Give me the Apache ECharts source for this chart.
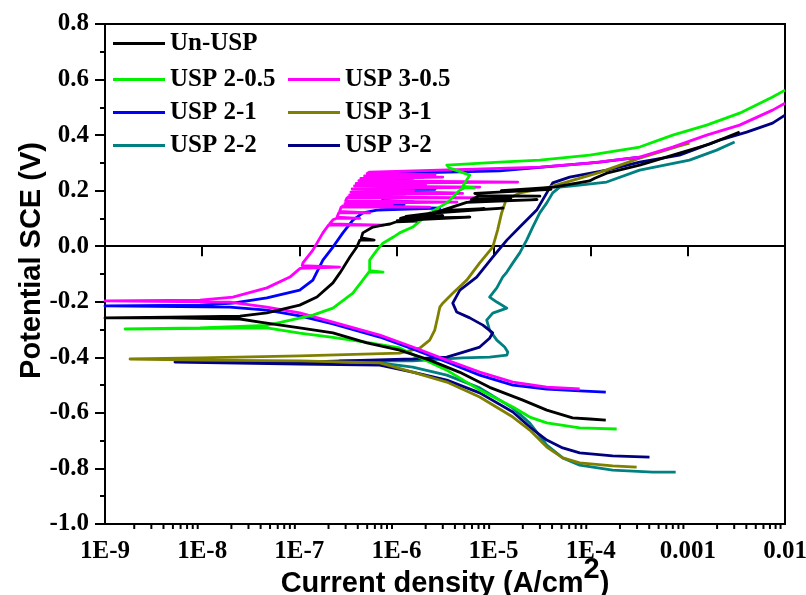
<!DOCTYPE html>
<html><head><meta charset="utf-8">
<script src="https://cdn.jsdelivr.net/npm/echarts@6/dist/echarts.min.js"></script>
<style>html,body{margin:0;padding:0;background:#fff}#c{width:806px;height:595px}</style>
</head><body><div id="c"></div>
<script>
// ---- tick labels ----
const xTickLabels = ['1E-9','1E-8','1E-7','1E-6','1E-5','1E-4','0.001','0.01'];
const seriesNames = ['Un-USP','USP 2-0.5','USP 3-0.5','USP 2-1','USP 3-1','USP 2-2','USP 3-2'];

// ---- data: [current density (A/cm2), potential (V vs SCE)] ----
const unUSP = [
 [1.43e-4,-0.626],[9.8e-5,-0.622],[6.5e-5,-0.618],[3.53e-5,-0.590],[2.0e-5,-0.554],[9.1e-6,-0.508],[4.5e-6,-0.454],
 [2.2e-6,-0.410],[1.08e-6,-0.374],[4.96e-7,-0.348],[2.22e-7,-0.312],[1.01e-7,-0.294],[3.93e-8,-0.273],[2.45e-8,-0.262],
 [4.66e-9,-0.258],[1.0e-9,-0.258],
 [4.66e-9,-0.255],[2.45e-8,-0.252],[4.64e-8,-0.240],[1.01e-7,-0.212],[1.52e-7,-0.183],[2.22e-7,-0.132],[2.62e-7,-0.096],
 [3.32e-7,-0.039],[3.91e-7,-0.003],[4.2e-7,0.022],[5.9e-7,0.022],[4.35e-7,0.03],[4.51e-7,0.048],[5.72e-7,0.069],[7.26e-7,0.076],
 [8.6e-7,0.08],[1.0e-6,0.088],[1.6e-6,0.09],[1.02e-6,0.092],[1.05e-6,0.095],[5.7e-6,0.105],[1.1e-6,0.100],
 [1.2e-6,0.104],[3.0e-6,0.11],[1.25e-6,0.107],
 [1.3e-6,0.108],[2.2e-6,0.118],[1.25e-5,0.137],[2.4e-6,0.122],
 [2.7e-6,0.125],[8.0e-6,0.135],[2.8e-6,0.128],
 [3.0e-6,0.13],[5.3e-6,0.158],[2.8e-5,0.168],[5.6e-6,0.16],
 [5.8e-6,0.165],[1.5e-5,0.172],[5.9e-6,0.168],
 [6.0e-6,0.175],[7.0e-6,0.180],[3.0e-5,0.18],[7.5e-6,0.182],
 [6.4e-6,0.19],[3.9e-5,0.205],[1.2e-5,0.200],[2.5e-5,0.207],[4.2e-5,0.213],
 [9.7e-5,0.235],[1.1e-4,0.245],[1.46e-4,0.263],[3.19e-4,0.292],[8.2e-4,0.335],[1.68e-3,0.368],[3.41e-3,0.411]
];
const usp2_05 = [
 [1.85e-4,-0.658],[7.7e-5,-0.654],[3.53e-5,-0.636],[2.36e-5,-0.615],[1.58e-5,-0.579],[7.2e-6,-0.518],[3.3e-6,-0.446],
 [1.47e-6,-0.389],[1.08e-6,-0.366],[4.96e-7,-0.346],[2.22e-7,-0.328],[1.01e-7,-0.313],[4.64e-8,-0.294],[1.61e-9,-0.298],
 [9.5e-9,-0.294],[4.64e-8,-0.285],[1.38e-7,-0.248],[2.22e-7,-0.223],[3.56e-7,-0.169],[4.51e-7,-0.122],
 [5.2e-7,-0.093],[7.3e-7,-0.093],[5.3e-7,-0.088],[5.3e-7,-0.050],[6.3e-7,-0.014],[7.26e-7,0.011],[9.3e-7,0.033],
 [1.08e-6,0.048],[1.47e-6,0.069],[2.2e-6,0.120],[3.3e-6,0.156],[4.5e-6,0.202],[5.0e-6,0.21],[6.3e-6,0.21],[4.8e-6,0.215],
 [5.7e-6,0.256],[3.54e-6,0.281],[3.3e-6,0.292],[1.16e-5,0.303],[2.99e-5,0.310],[9.78e-5,0.328],[3.19e-4,0.357],
 [6.98e-4,0.400],[1.56e-3,0.436],[3.41e-3,0.479],[7.45e-3,0.537],[1.0e-2,0.562]
];
const usp3_05 = [
 [7.7e-5,-0.514],[3.53e-5,-0.507],[1.58e-5,-0.489],[7.2e-6,-0.453],[3.3e-6,-0.410],[1.47e-6,-0.363],[6.74e-7,-0.320],
 [2.22e-7,-0.273],[1.01e-7,-0.240],[4.64e-8,-0.219],[1.93e-8,-0.201],[1.0e-9,-0.197],
 [9.5e-9,-0.194],[2.07e-8,-0.183],[4.64e-8,-0.150],[8.0e-8,-0.111],[1.02e-7,-0.08],[1.05e-7,-0.075],[2.6e-7,-0.075],
 [1.07e-7,-0.07],[1.09e-7,-0.060],[1.38e-7,-0.014],[1.75e-7,0.048],[2.0e-7,0.076],[7.3e-7,0.076],[2.05e-7,0.08],
 [2.22e-7,0.095],[2.4e-7,0.10],[4.2e-7,0.10],[2.45e-7,0.105],
 [2.55e-7,0.12],[5.3e-7,0.12],[2.6e-7,0.125],
 [2.7e-7,0.141],[2.2e-6,0.141],[2.8e-7,0.145],
 [2.9e-7,0.150],[9.0e-7,0.150],[2.95e-7,0.154],
 [2.9e-7,0.159],[4.2e-6,0.159],[3.0e-7,0.163],
 [3.1e-7,0.174],[9.8e-6,0.174],[3.2e-7,0.178],
 [3.25e-7,0.182],[1.2e-6,0.182],[3.3e-7,0.185],
 [3.3e-7,0.19],[4.8e-6,0.19],[3.4e-7,0.195],
 [3.45e-7,0.202],[1.5e-6,0.202],[3.5e-7,0.206],
 [3.5e-7,0.213],[7.2e-6,0.213],[3.7e-7,0.217],
 [3.8e-7,0.222],[2.0e-6,0.222],[3.85e-7,0.226],
 [3.9e-7,0.231],[1.77e-5,0.231],[4.1e-7,0.236],
 [4.2e-7,0.240],[1.3e-6,0.240],[4.3e-7,0.244],
 [4.4e-7,0.249],[3.0e-6,0.249],[4.7e-7,0.253],
 [4.9e-7,0.258],[2.5e-6,0.258],[5.0e-7,0.262],
 [5.3e-7,0.267],[1.16e-5,0.28],[2.99e-5,0.285],[9.78e-5,0.299],[3.19e-4,0.321],[6.98e-4,0.357],[1.56e-3,0.400],
 [3.41e-3,0.436],[7.45e-3,0.490],[1.0e-2,0.515]
];
const usp2_1 = [
 [1.43e-4,-0.525],[7.7e-5,-0.521],[3.53e-5,-0.514],[1.58e-5,-0.500],[7.2e-6,-0.464],[3.3e-6,-0.417],[1.47e-6,-0.370],
 [6.74e-7,-0.327],[2.22e-7,-0.280],[1.01e-7,-0.251],[4.64e-8,-0.230],[1.93e-8,-0.219],[1.0e-9,-0.215],
 [9.5e-9,-0.212],[2.07e-8,-0.205],[4.64e-8,-0.186],[1.01e-7,-0.158],[1.38e-7,-0.122],[1.75e-7,-0.050],[2.22e-7,-0.003],
 [2.81e-7,0.048],[3.56e-7,0.094],[4.51e-7,0.120],[6.3e-7,0.130],
 [6.5e-7,0.137],[2.8e-6,0.137],[6.7e-7,0.142],
 [6.9e-7,0.150],[1.2e-6,0.150],[6.95e-7,0.154],
 [7.0e-7,0.16],[1.5e-6,0.16],[7.2e-7,0.165],
 [7.3e-7,0.175],[2.0e-6,0.175],[7.4e-7,0.178],
 [7.5e-7,0.191],[4.3e-6,0.191],[7.7e-7,0.195],
 [7.8e-7,0.205],[2.5e-6,0.205],[7.9e-7,0.209],
 [8.0e-7,0.22],[1.9e-6,0.22],[8.2e-7,0.225],
 [8.3e-7,0.235],[1.5e-6,0.235],[8.35e-7,0.239],
 [8.4e-7,0.249],[1.9e-6,0.249],[8.6e-7,0.254],
 [8.7e-7,0.262],[3.5e-6,0.267],[1.16e-5,0.271],[2.99e-5,0.284],[1.24e-4,0.303],[3.19e-4,0.321]
];
const usp3_1 = [
 [2.97e-4,-0.795],[1.68e-4,-0.791],[7.7e-5,-0.780],[5.15e-5,-0.762],[3.53e-5,-0.723],[2.36e-5,-0.662],[1.58e-5,-0.615],
 [7.2e-6,-0.543],[3.3e-6,-0.489],[1.47e-6,-0.453],[6.74e-7,-0.420],[1.01e-7,-0.413],[9.5e-9,-0.410],[1.81e-9,-0.406],
 [9.5e-9,-0.402],[1.01e-7,-0.395],[1.08e-6,-0.385],[1.74e-6,-0.367],[2.2e-6,-0.338],[2.48e-6,-0.302],[2.66e-6,-0.255],
 [2.8e-6,-0.219],[3.0e-6,-0.205],[3.8e-6,-0.169],[5.3e-6,-0.122],[7.2e-6,-0.060],[9.8e-6,-0.003],[1.1e-5,0.058],
 [1.21e-5,0.120],[1.24e-5,0.130],[1.34e-5,0.166],[1.86e-5,0.192],[3.53e-5,0.210],[1.24e-4,0.266],[3.19e-4,0.317],
 [8.2e-4,0.361],[1.04e-3,0.371]
];
const usp2_2 = [
 [7.49e-4,-0.813],[4.35e-4,-0.813],[1.68e-4,-0.806],[7.7e-5,-0.788],[5.15e-5,-0.762],[3.53e-5,-0.716],[2.36e-5,-0.637],
 [1.58e-5,-0.583],[7.2e-6,-0.510],[3.3e-6,-0.464],[1.47e-6,-0.435],[6.74e-7,-0.420],[2.62e-7,-0.413],
 [6.74e-7,-0.413],[1.47e-6,-0.413],[4.8e-6,-0.402],[9.1e-6,-0.399],[1.37e-5,-0.392],[1.4e-5,-0.381],[1.3e-5,-0.363],
 [1.08e-5,-0.338],[9.1e-6,-0.302],[8.5e-6,-0.266],[9.8e-6,-0.241],[1.37e-5,-0.223],[1.08e-5,-0.201],[9.1e-6,-0.183],
 [1.08e-5,-0.150],[1.24e-5,-0.111],[1.37e-5,-0.093],[1.58e-5,-0.060],[1.86e-5,-0.024],[2.19e-5,0.022],[2.53e-5,0.069],
 [2.99e-5,0.120],[3.53e-5,0.156],[4.06e-5,0.192],[4.8e-5,0.213],[6.5e-5,0.217],[1.46e-4,0.231],[3.19e-4,0.274],
 [1.04e-3,0.310],[1.98e-3,0.346],[3.03e-3,0.375]
];
const usp3_2 = [
 [4.03e-4,-0.759],[1.68e-4,-0.755],[7.7e-5,-0.744],[5.15e-5,-0.726],[3.53e-5,-0.698],[2.36e-5,-0.651],[1.58e-5,-0.597],
 [7.2e-6,-0.528],[3.3e-6,-0.482],[1.47e-6,-0.453],[6.74e-7,-0.428],[1.01e-7,-0.424],[5.25e-9,-0.417],
 [1.01e-7,-0.417],[1.47e-6,-0.406],[3.3e-6,-0.399],[4.8e-6,-0.382],[7.2e-6,-0.363],[9.1e-6,-0.331],[9.8e-6,-0.312],
 [7.76e-6,-0.284],[5.69e-6,-0.258],[4.17e-6,-0.237],[3.8e-6,-0.205],[4.5e-6,-0.158],[6.7e-6,-0.111],[9.8e-6,-0.039],
 [1.37e-5,0.022],[1.86e-5,0.069],[2.78e-5,0.130],[3.53e-5,0.192],[4.06e-5,0.228],[6.08e-5,0.249],[1.46e-4,0.274],
 [3.19e-4,0.303],[8.2e-4,0.328],[2.12e-3,0.382],[4.03e-3,0.411],[7.45e-3,0.443],[1.0e-2,0.472]
];

const colors = {
 'Un-USP':'#000000','USP 2-0.5':'#00f000','USP 3-0.5':'#ff00ff','USP 2-1':'#0000ff',
 'USP 3-1':'#808000','USP 2-2':'#008080','USP 3-2':'#000080'
};
const dataMap = {
 'Un-USP':unUSP,'USP 2-0.5':usp2_05,'USP 3-0.5':usp3_05,'USP 2-1':usp2_1,
 'USP 3-1':usp3_1,'USP 2-2':usp2_2,'USP 3-2':usp3_2
};
const drawOrder = ['USP 2-2','USP 3-2','USP 3-1','USP 2-1','USP 3-0.5','USP 2-0.5','Un-USP'];

const serif = 'Liberation Serif';
const sans = 'Liberation Sans';
const legendText = {fontFamily: serif, fontWeight: 'bold', fontSize: 25, color: '#000', lineHeight: 25};
const legendBase = {
 icon: 'rect', itemWidth: 52, itemHeight: 3, padding: 0, selectedMode: false,
 textStyle: legendText, orient: 'vertical', itemGap: 8
};

const chart = echarts.init(document.getElementById('c'), null, {renderer: 'canvas'});
const option = {
 animation: false,
 backgroundColor: '#fff',
 grid: {left: 105, right: 21, top: 24, bottom: 71, show: true, borderColor: '#000', borderWidth: 2,
        containLabel: false, outerBoundsMode: 'none'},
 legend: [
  Object.assign({}, legendBase, {data: ['Un-USP'], left: 113, top: 31}),
  Object.assign({}, legendBase, {data: ['USP 2-0.5','USP 2-1','USP 2-2'], left: 113, top: 67}),
  Object.assign({}, legendBase, {data: ['USP 3-0.5','USP 3-1','USP 3-2'], left: 288, top: 67})
 ],
 xAxis: {
  type: 'log', logBase: 10, min: 1e-9, max: 0.01,
  axisLine: {lineStyle: {color: '#000', width: 2}},
  axisTick: {show: true, length: 10, lineStyle: {color: '#000', width: 2}},
  splitLine: {show: false},
  axisLabel: {
   margin: 15, color: '#000', fontFamily: serif, fontWeight: 'bold', fontSize: 25,
   formatter: v => xTickLabels[Math.round(Math.log10(v)) + 9]
  },
  name: '{t|Current density (A/cm}{s|2}{t|)}',
  nameLocation: 'middle', nameGap: 31, nameMoveOverlap: false,
  nameTextStyle: {
   rich: {
    t: {fontFamily: sans, fontWeight: 'bold', fontSize: 29, color: '#000', verticalAlign: 'bottom'},
    s: {fontFamily: sans, fontWeight: 'bold', fontSize: 29, color: '#000', verticalAlign: 'bottom', padding: [0,0,14,0]}
   }
  }
 },
 yAxis: {
  type: 'value', min: -1.0, max: 0.8, interval: 0.2,
  axisLine: {show: true, lineStyle: {color: '#000', width: 2}},
  axisTick: {show: true, length: 10, lineStyle: {color: '#000', width: 2}},
  minorTick: {show: true, splitNumber: 2, length: 5, lineStyle: {color: '#000', width: 2}},
  splitLine: {show: false},
  axisLabel: {margin: 16, color: '#000', fontFamily: serif, fontWeight: 'bold', fontSize: 25,
   formatter: v => v.toFixed(1)},
  name: 'Potential SCE (V)', nameLocation: 'middle', nameGap: 59, nameMoveOverlap: false,
  nameTextStyle: {fontFamily: sans, fontWeight: 'bold', fontSize: 29, color: '#000', padding: [0,0,0,27]}
 },
 series: drawOrder.map(n => ({
  name: n, type: 'line', data: dataMap[n], showSymbol: false, symbol: 'none',
  lineStyle: {color: colors[n], width: 2.8, join: 'round'},
  itemStyle: {color: colors[n]},
  emphasis: {disabled: true}
 }))
};
chart.setOption(option);

// minor ticks of the log x axis (2..9 within each decade)
const minorVals = [];
for (let e = -9; e < -2; e++) {
 for (let k = 2; k <= 9; k++) minorVals.push(k * Math.pow(10, e));
}
const yBottom = chart.convertToPixel({yAxisIndex: 0}, -1.0);
const g = minorVals.map(v => {
 const px = chart.convertToPixel({xAxisIndex: 0}, v);
 return {type: 'line', shape: {x1: px, y1: yBottom, x2: px, y2: yBottom + 5},
   style: {stroke: '#000', lineWidth: 2}, silent: true};
});
chart.setOption({graphic: g});
</script></body></html>
